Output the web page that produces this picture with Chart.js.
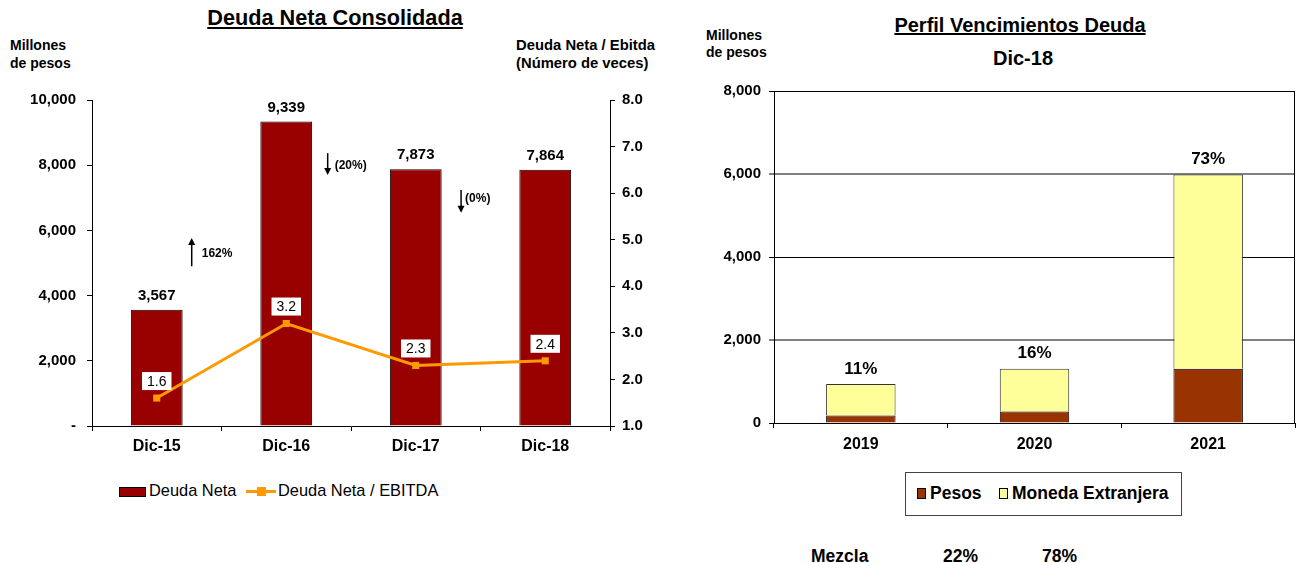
<!DOCTYPE html>
<html>
<head>
<meta charset="utf-8">
<script src="https://cdn.jsdelivr.net/npm/chart.js@4.4.1/dist/chart.umd.min.js"></script>
<style>
  html, body { margin: 0; padding: 0; background: #fff; }
  body { width: 1298px; height: 563px; position: relative; overflow: hidden;
         font-family: "Liberation Sans", Arial, sans-serif; color: #000; }
  .abs { position: absolute; white-space: nowrap; }
  .b { font-weight: bold; }
  canvas { position: absolute; top: 0; }
  #left-chart  { left: 0; }
  #right-chart { left: 660px; }
  .legend-box { position: absolute; left: 905px; top: 472px; width: 277px; height: 44px;
                border: 1px solid #444; box-sizing: border-box; }
  .sw { position: absolute; box-sizing: border-box; border: 1px solid #000; }
</style>
</head>
<body>

<!-- titulos y unidades -->
<div class="abs b" style="left:335px; top:5px; transform:translateX(-50%); font-size:21.7px; text-decoration:underline;">Deuda Neta Consolidada</div>
<div class="abs b" style="left:10px; top:36px; font-size:14px; line-height:18px;">Millones<br>de pesos</div>
<div class="abs b" style="right:643px; top:36px; font-size:14.8px; line-height:18px; text-align:left;">Deuda Neta / Ebitda<br>(Número de veces)</div>

<div class="abs b" style="left:1020px; top:14px; transform:translateX(-50%); font-size:20px; text-decoration:underline;">Perfil Vencimientos Deuda</div>
<div class="abs b" style="left:1023px; top:47px; transform:translateX(-50%); font-size:20px;">Dic-18</div>
<div class="abs b" style="left:706px; top:27px; font-size:14px; line-height:17px;">Millones<br>de pesos</div>

<canvas id="left-chart" width="660" height="470"></canvas>
<canvas id="right-chart" width="638" height="470"></canvas>

<!-- leyenda izquierda -->
<div class="sw" style="left:119px; top:487px; width:27px; height:10px; background:#990000;"></div>
<div class="abs" style="left:149px; top:481px; font-size:16.4px;">Deuda Neta</div>
<div class="abs" style="left:246px; top:490px; width:30px; height:3px; background:#FF9900;"></div>
<div class="abs" style="left:257px; top:487px; width:9px; height:9px; background:#FF9900;"></div>
<div class="abs" style="left:278px; top:481px; font-size:16.4px;">Deuda Neta / EBITDA</div>

<!-- leyenda derecha -->
<div class="legend-box"></div>
<div class="sw" style="left:917px; top:488px; width:9px; height:11px; background:#993300;"></div>
<div class="abs b" style="left:930px; top:483px; font-size:17.5px;">Pesos</div>
<div class="sw" style="left:999px; top:488px; width:9px; height:11px; background:#FFFF99;"></div>
<div class="abs b" style="left:1012px; top:483px; font-size:17.5px;">Moneda Extranjera</div>

<!-- mezcla -->
<div class="abs b" style="left:811px; top:546px; font-size:17.5px;">Mezcla</div>
<div id="mix-pesos" class="abs b" style="left:943px; top:546px; font-size:17.5px;"></div>
<div id="mix-me" class="abs b" style="left:1042px; top:546px; font-size:17.5px;"></div>

<script>
// --- Deuda Neta Consolidada ---
const periodos      = ['Dic-15', 'Dic-16', 'Dic-17', 'Dic-18'];
const deudaNeta     = [3567, 9339, 7873, 7864];
const deudaEbitda   = [1.6, 3.2, 2.3, 2.4];
const variaciones   = ['162%', '(20%)', '(0%)'];
const variacionDir  = ['up', 'down', 'down'];
const ticksMillones = [0, 2000, 4000, 6000, 8000, 10000];
const ticksVeces    = [1, 2, 3, 4, 5, 6, 7, 8];

// --- Perfil Vencimientos ---
const anios        = ['2019', '2020', '2021'];
const vencPesos    = [180, 275, 1310];
const vencME       = [760, 1035, 4680];
const vencShare    = ['11%', '16%', '73%'];
const mezcla       = ['22%', '78%'];
const ticksVenc    = [0, 2000, 4000, 6000, 8000];

// colocacion de flechas de variacion (fraccion de categoria, valores eje izq.)
const flechaPos = [
    { dx: 0.27, from: 4900, to: 5770, text: 5300, gap: 10 },
    { dx: 0.32, from: 8370, to: 7700, text: 7980, gap: 7 },
    { dx: 0.35, from: 7240, to: 6540, text: 6960, gap: 4 }
];

document.getElementById('mix-pesos').textContent = mezcla[0];
document.getElementById('mix-me').textContent = mezcla[1];

const FONT = '"Liberation Sans", Arial, sans-serif';
const fmt = v => v.toLocaleString('en-US');

function fixWidth(w) { return scale => { scale.width = w; }; }
function fixHeight(h) { return scale => { scale.height = h; }; }

// etiquetas sobre barras / puntos y flechas
const leftLabels = {
    id: 'leftLabels',
    afterDatasetsDraw(chart) {
        const ctx = chart.ctx;
        const x = chart.scales.x, y = chart.scales.y;
        const lineMeta = chart.getDatasetMeta(0);
        const barMeta  = chart.getDatasetMeta(1);
        ctx.save();
        ctx.textAlign = 'center';
        ctx.textBaseline = 'middle';

        // valores de barras
        ctx.font = 'bold 15px ' + FONT;
        ctx.fillStyle = '#000';
        barMeta.data.forEach((bar, i) => {
            ctx.fillText(fmt(deudaNeta[i]), bar.x, bar.y - 14);
        });

        // valores de la linea con caja blanca
        ctx.font = '14px ' + FONT;
        lineMeta.data.forEach((pt, i) => {
            const t = deudaEbitda[i].toFixed(1);
            const w = ctx.measureText(t).width + 10;
            const cy = pt.y - 17;
            ctx.fillStyle = '#fff';
            ctx.fillRect(pt.x - w / 2, cy - 9, w, 18);
            ctx.fillStyle = '#000';
            ctx.fillText(t, pt.x, cy + 1);
        });

        // flechas de variacion
        ctx.strokeStyle = '#000';
        ctx.lineWidth = 1.5;
        ctx.font = 'bold 12px ' + FONT;
        ctx.textAlign = 'left';
        flechaPos.forEach((f, i) => {
            const ax = x.getPixelForValue(i + f.dx);
            const y0 = y.getPixelForValue(f.from);
            const y1 = y.getPixelForValue(f.to);
            const dir = variacionDir[i] === 'up' ? -1 : 1;
            ctx.beginPath();
            ctx.moveTo(ax, y0);
            ctx.lineTo(ax, y1 - dir * 5);
            ctx.stroke();
            ctx.beginPath();
            ctx.moveTo(ax, y1);
            ctx.lineTo(ax - 3.5, y1 - dir * 7);
            ctx.lineTo(ax + 3.5, y1 - dir * 7);
            ctx.closePath();
            ctx.fillStyle = '#000';
            ctx.fill();
            ctx.fillText(variaciones[i], ax + f.gap, y.getPixelForValue(f.text));
        });
        ctx.restore();
    }
};

new Chart(document.getElementById('left-chart'), {
    data: {
        labels: periodos,
        datasets: [{
            type: 'line',
            label: 'Deuda Neta / EBITDA',
            data: deudaEbitda,
            yAxisID: 'y1',
            borderColor: '#FF9900',
            backgroundColor: '#FF9900',
            borderWidth: 3,
            pointStyle: 'rect',
            pointRadius: 5,
            pointBorderWidth: 0,
            tension: 0,
            order: 0
        }, {
            type: 'bar',
            label: 'Deuda Neta',
            data: deudaNeta,
            yAxisID: 'y',
            backgroundColor: '#990000',
            borderColor: '#000',
            borderWidth: 1,
            barPercentage: 0.4,
            categoryPercentage: 1,
            order: 1
        }]
    },
    options: {
        responsive: false,
        animation: false,
        layout: { padding: { top: 100, left: 0, right: 0, bottom: 0 } },
        plugins: { legend: { display: false }, tooltip: { enabled: false } },
        scales: {
            x: {
                afterFit: fixHeight(44),
                grid: { offset: true, drawOnChartArea: false, tickLength: 5, color: '#000' },
                border: { color: '#000', width: 1 },
                ticks: { color: '#000', padding: 6, font: { family: FONT, size: 16, weight: 'bold' } }
            },
            y: {
                position: 'left',
                min: 0, max: 10000,
                afterFit: fixWidth(92),
                afterBuildTicks: s => { s.ticks = ticksMillones.map(v => ({ value: v })); },
                grid: { drawOnChartArea: false, tickLength: 5, color: '#000' },
                border: { color: '#000', width: 1 },
                ticks: {
                    color: '#000', padding: 11,
                    font: { family: FONT, size: 15, weight: 'bold' },
                    callback: v => v === 0 ? '-' : fmt(v)
                }
            },
            y1: {
                position: 'right',
                min: 1, max: 8,
                afterFit: fixWidth(50),
                afterBuildTicks: s => { s.ticks = ticksVeces.map(v => ({ value: v })); },
                grid: { drawOnChartArea: false, tickLength: 5, color: '#000' },
                border: { color: '#000', width: 1 },
                ticks: {
                    color: '#000', padding: 7,
                    font: { family: FONT, size: 15, weight: 'bold' },
                    callback: v => v.toFixed(1)
                }
            }
        }
    },
    plugins: [leftLabels]
});

// --- grafica derecha ---
const rightDecor = {
    id: 'rightDecor',
    afterDatasetsDraw(chart) {
        const ctx = chart.ctx;
        const a = chart.chartArea;
        ctx.save();
        ctx.strokeStyle = '#000';
        ctx.lineWidth = 1;
        ctx.beginPath();
        ctx.moveTo(a.left, a.top + 0.5);
        ctx.lineTo(a.right - 0.5, a.top + 0.5);
        ctx.lineTo(a.right - 0.5, a.bottom);
        ctx.stroke();

        ctx.font = 'bold 17px ' + FONT;
        ctx.fillStyle = '#000';
        ctx.textAlign = 'center';
        ctx.textBaseline = 'middle';
        chart.getDatasetMeta(1).data.forEach((bar, i) => {
            ctx.fillText(vencShare[i], bar.x, bar.y - 15);
        });
        ctx.restore();
    }
};

const isGrey = c => c.tick && (c.tick.value === 2000 || c.tick.value === 6000);

new Chart(document.getElementById('right-chart'), {
    type: 'bar',
    data: {
        labels: anios,
        datasets: [{
            label: 'Pesos',
            data: vencPesos,
            backgroundColor: '#993300',
            borderColor: '#000',
            borderWidth: 1,
            barPercentage: 0.4,
            categoryPercentage: 1
        }, {
            label: 'Moneda Extranjera',
            data: vencME,
            backgroundColor: '#FFFF99',
            borderColor: '#333',
            borderWidth: 1,
            barPercentage: 0.4,
            categoryPercentage: 1
        }]
    },
    options: {
        responsive: false,
        animation: false,
        layout: { padding: { top: 91, left: 0, right: 3, bottom: 0 } },
        plugins: { legend: { display: false }, tooltip: { enabled: false } },
        scales: {
            x: {
                stacked: true,
                afterFit: fixHeight(47),
                grid: { offset: true, drawOnChartArea: false, tickLength: 5, color: '#000' },
                border: { color: '#000', width: 1 },
                ticks: { color: '#000', padding: 7, font: { family: FONT, size: 16, weight: 'bold' } }
            },
            y: {
                stacked: true,
                min: 0, max: 8000,
                afterFit: fixWidth(114),
                afterBuildTicks: s => { s.ticks = ticksVenc.map(v => ({ value: v })); },
                grid: {
                    tickLength: 5,
                    lineWidth: c => isGrey(c) ? 2 : 1,
                    color: c => isGrey(c) ? '#808080' : '#000'
                },
                border: { color: '#000', width: 1 },
                ticks: {
                    color: '#000', padding: 8,
                    font: { family: FONT, size: 15, weight: 'bold' },
                    callback: v => fmt(v)
                }
            }
        }
    },
    plugins: [rightDecor]
});
</script>
</body>
</html>
